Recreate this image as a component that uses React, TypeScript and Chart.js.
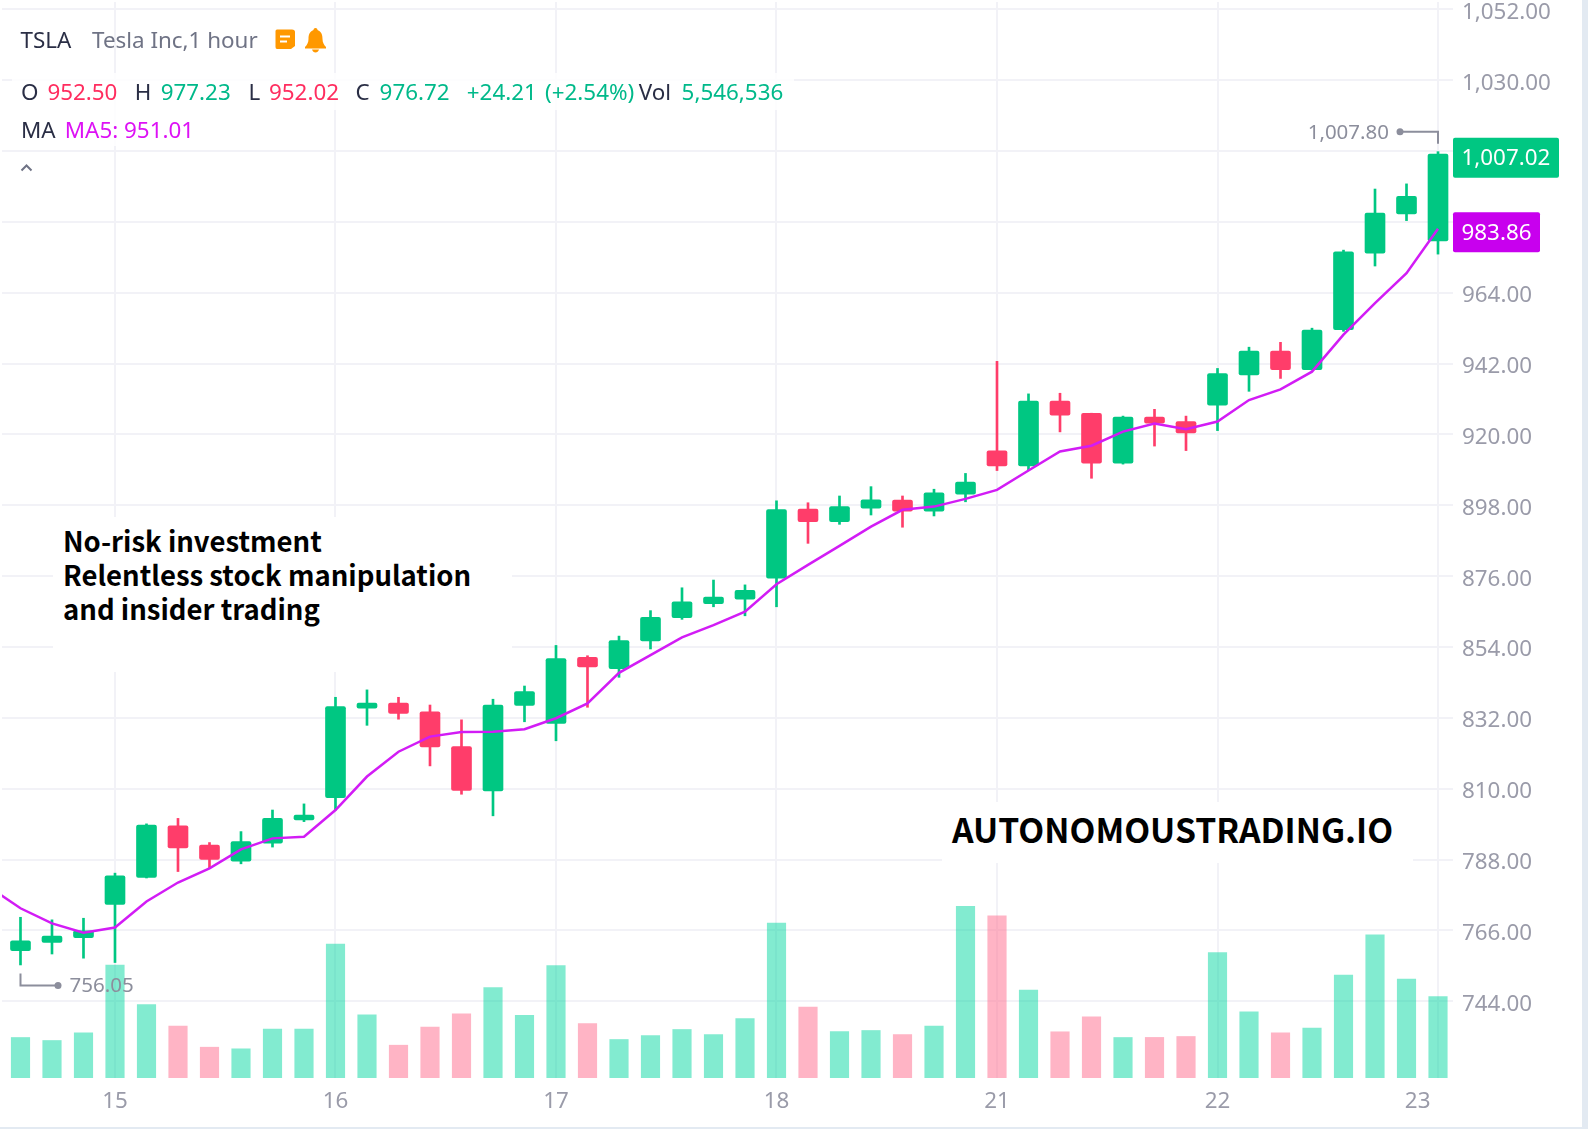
import React, { useEffect, useRef } from "react";
import { Chart, registerables } from "chart.js";

Chart.register(...registerables);

const opens = [759.7, 762.3, 763.8, 774.1, 782.5, 798.5, 792.5, 787.5, 793.1, 800.3, 807.2, 835.0, 836.6, 833.9, 823.1, 809.3, 835.9, 830.3, 850.8, 847.3, 855.9, 863.1, 867.5, 868.9, 875.4, 896.8, 892.9, 897.1, 899.6, 896.2, 901.5, 914.9, 910.2, 930.4, 926.6, 911.1, 925.4, 924.0, 929.1, 938.5, 945.9, 940.1, 952.5, 976.3, 988.5, 980.1];
const highs = [770.1, 769.3, 769.8, 783.8, 799.1, 800.8, 793.3, 796.7, 803.4, 805.3, 838.4, 840.7, 838.4, 836.0, 831.4, 837.8, 841.9, 854.5, 851.3, 857.4, 865.3, 872.4, 874.8, 873.3, 899.4, 898.8, 900.9, 903.8, 900.9, 903.0, 907.9, 942.7, 932.6, 932.8, 926.6, 925.7, 927.8, 925.7, 940.5, 947.1, 948.6, 953.0, 977.23, 996.2, 997.8, 1007.8];
const lows = [755.3, 758.7, 757.4, 756.05, 782.3, 784.3, 785.3, 786.7, 791.9, 799.8, 803.4, 829.7, 831.6, 817.1, 808.3, 801.6, 830.8, 824.9, 835.3, 844.6, 853.4, 862.6, 866.5, 863.7, 866.5, 886.2, 892.1, 895.0, 891.2, 894.7, 899.1, 908.8, 909.0, 920.8, 906.4, 910.8, 916.4, 915.0, 921.2, 933.4, 937.4, 940.0, 952.02, 972.3, 986.4, 976.0];
const closes = [762.8, 764.3, 765.9, 783.0, 798.7, 791.6, 788.1, 793.6, 800.8, 801.8, 835.5, 836.6, 833.4, 823.0, 809.5, 836.0, 840.2, 850.4, 847.8, 856.0, 863.2, 868.0, 869.5, 871.6, 896.7, 892.9, 897.6, 899.7, 896.2, 901.9, 905.2, 910.2, 930.4, 926.0, 911.1, 925.4, 923.5, 920.5, 938.9, 945.9, 940.1, 952.4, 976.72, 988.7, 993.9, 1007.02];
const volumes = [2185000, 2023000, 2439000, 6086000, 3966000, 2795000, 1662000, 1575000, 2633000, 2640000, 7219000, 3410000, 1770000, 2741000, 3464000, 4883000, 3383000, 6070000, 2941000, 2077000, 2293000, 2617000, 2347000, 3210000, 8358000, 3820000, 2509000, 2563000, 2347000, 2795000, 9269000, 8751000, 4737000, 2493000, 3302000, 2185000, 2190000, 2239000, 6771000, 3572000, 2439000, 2687000, 5546536, 7726000, 5331000, 4397000];
const ma5Start = -1;
const ma5 = [779.5, 772.9, 768.2, 765.3, 766.9, 775.0, 780.9, 785.3, 791.2, 794.6, 795.1, 803.4, 813.8, 821.5, 826.2, 827.6, 827.7, 828.5, 831.9, 836.5, 846.0, 851.5, 857.0, 860.8, 865.0, 873.5, 879.5, 885.4, 891.4, 896.6, 897.6, 900.0, 902.8, 908.8, 914.7, 916.5, 920.9, 923.4, 921.6, 924.0, 930.7, 934.0, 939.5, 951.01, 960.8, 970.1, 983.86];
const priceTicks = [744, 766, 788, 810, 832, 854, 876, 898, 920, 942, 964, 986, 1008, 1030, 1052];
const dayTickIndex = [3, 10, 17, 24, 31, 38, 45];
const dayTickLabels = ["15", "16", "17", "18", "21", "22", "23"];
const lastPrice = 1007.02;
const lastMa = 983.86;
const highIndex = 45;
const highValue = 1007.8;
const lowIndex = 3;
const lowValue = 756.05;

const FONT = '"Noto Sans", sans-serif';
const GREEN = "#00c782";
const RED = "#ff3d6a";
const VOL_GREEN = "rgba(0,214,160,0.49)";
const VOL_RED = "rgba(255,106,140,0.5)";
const MAGENTA = "#d21cf5";
const GRID = "#f2f2f7";
const TICK = "#9a9ba9";
const MARK = "#8c8e9c";

const fmt = (v: number) =>
  v.toLocaleString("en-US", { minimumFractionDigits: 2, maximumFractionDigits: 2 });

const up = closes.map((c, i) => c >= opens[i]);

const markers = {
  id: "markers",
  afterDatasetsDraw(chart: any) {
    const { ctx, scales } = chart;
    const x = scales.x;
    const y = scales.y;
    ctx.save();
    ctx.textBaseline = "middle";
    ctx.font = `20.5px ${FONT}`;

    // highest price marker
    const hx = x.getPixelForValue(highIndex);
    const hy = y.getPixelForValue(highValue) - 20;
    ctx.strokeStyle = MARK;
    ctx.lineWidth = 2;
    ctx.beginPath();
    ctx.moveTo(1400, hy);
    ctx.lineTo(hx, hy);
    ctx.lineTo(hx, hy + 12);
    ctx.stroke();
    ctx.fillStyle = MARK;
    ctx.beginPath();
    ctx.arc(1400, hy, 3.5, 0, Math.PI * 2);
    ctx.fill();
    ctx.textAlign = "right";
    ctx.fillText(fmt(highValue), 1389, hy + 1);

    // lowest price marker
    const lx = x.getPixelForValue(lowIndex) - 94.5;
    const ly = y.getPixelForValue(lowValue) + 23;
    ctx.beginPath();
    ctx.moveTo(lx, ly - 12);
    ctx.lineTo(lx, ly);
    ctx.lineTo(58, ly);
    ctx.stroke();
    ctx.beginPath();
    ctx.arc(58, ly, 3.5, 0, Math.PI * 2);
    ctx.fill();
    ctx.textAlign = "left";
    ctx.fillText(fmt(lowValue), 69.5, ly + 1);

    // current value tags on the price axis
    const tag = (value: number, w: number, color: string) => {
      const cy = y.getPixelForValue(value) + 3.5;
      ctx.fillStyle = color;
      ctx.beginPath();
      ctx.roundRect(1453, cy - 20, w, 40, 2);
      ctx.fill();
      ctx.fillStyle = "#ffffff";
      ctx.font = `22.4px ${FONT}`;
      ctx.textAlign = "left";
      ctx.fillText(fmt(value), 1461.5, cy + 1);
    };
    tag(lastPrice, 106, GREEN);
    tag(lastMa, 87, "#c800ee");
    ctx.restore();
  },
};

const Row = ({ x, y, color, children, size = 22.4 }: any) => (
  <span
    style={{
      position: "absolute",
      left: x,
      top: y - 16,
      lineHeight: "32px",
      fontSize: size,
      fontFamily: FONT,
      color,
      whiteSpace: "pre",
    }}
  >
    {children}
  </span>
);

const DARK = "#2a2e45";
const SUB = "#6f7385";
const HRED = "#ff2d5f";
const HGREEN = "#00b98a";
const HMAG = "#dd12f5";

export default function App() {
  const ref = useRef<HTMLCanvasElement | null>(null);

  useEffect(() => {
    const idx = closes.map((_, i) => i);
    const chart = new Chart(ref.current as HTMLCanvasElement, {
      type: "bar",
      data: {
        datasets: [
          {
            type: "line",
            data: ma5.map((v, i) => ({ x: ma5Start + i, y: v })),
            borderColor: MAGENTA,
            borderWidth: 2.5,
            pointRadius: 0,
            tension: 0,
            order: 1,
            yAxisID: "y",
          },
          {
            data: idx.map((i) => ({ x: i, y: [opens[i], closes[i]] })),
            backgroundColor: up.map((u) => (u ? GREEN : RED)),
            barThickness: 20,
            borderRadius: 2,
            borderSkipped: false,
            grouped: false,
            order: 2,
            yAxisID: "y",
          },
          {
            data: idx.map((i) => ({ x: i, y: [lows[i], highs[i]] })),
            backgroundColor: up.map((u) => (u ? GREEN : RED)),
            barThickness: 2,
            grouped: false,
            order: 3,
            yAxisID: "y",
          },
          {
            data: idx.map((i) => ({ x: i, y: volumes[i] })),
            backgroundColor: up.map((u) => (u ? VOL_GREEN : VOL_RED)),
            barThickness: 18.5,
            grouped: false,
            order: 4,
            yAxisID: "vol",
          },
        ],
      } as any,
      options: {
        animation: false,
        responsive: false,
        events: [],
        layout: { padding: { left: 2, top: 2, right: 0, bottom: 0 } },
        plugins: { legend: { display: false }, tooltip: { enabled: false } },
        scales: {
          x: {
            type: "linear",
            offset: false,
            min: -0.587,
            max: 45.476,
            grid: { color: GRID, lineWidth: 2, drawTicks: false, offset: false },
            border: { display: false },
            afterBuildTicks: (s: any) => {
              s.ticks = dayTickIndex.map((v) => ({ value: v }));
            },
            afterFit: (s: any) => {
              s.height = 51;
              s.paddingLeft = 0;
              s.paddingRight = 0;
            },
            ticks: {
              autoSkip: false,
              maxRotation: 0,
              padding: 10,
              color: TICK,
              font: { family: "Noto Sans", size: 22.4 },
              callback: (v: any) => {
                const k = dayTickIndex.indexOf(Number(v));
                const label = k < 0 ? "" : dayTickLabels[k];
                return k === dayTickLabels.length - 1 ? label + "       " : label;
              },
            },
          },
          y: {
            type: "linear",
            position: "right",
            min: 720.2,
            max: 1054.27,
            grid: { color: GRID, lineWidth: 2, drawTicks: false },
            border: { display: false },
            afterBuildTicks: (s: any) => {
              s.ticks = priceTicks.map((v) => ({ value: v }));
            },
            afterFit: (s: any) => {
              s.width = 135;
              s.paddingTop = 0;
              s.paddingBottom = 0;
            },
            ticks: {
              padding: 9,
              labelOffset: 3,
              color: TICK,
              font: { family: "Noto Sans", size: 22.4 },
              callback: (v: any) => fmt(Number(v)),
            },
          },
          vol: {
            type: "linear",
            display: false,
            min: 0,
            max: 58055580,
          },
        },
      } as any,
      plugins: [markers],
    });
    return () => chart.destroy();
  }, []);

  return (
    <div style={{ position: "absolute", left: 0, top: 0, width: 1588, height: 1129, overflow: "hidden", background: "#e3eaf2" }}>
      <div style={{ position: "absolute", left: 0, top: 0, width: 1582, height: 1127, background: "#ffffff" }} />
      <canvas ref={ref} width={1588} height={1129} style={{ position: "absolute", left: 0, top: 0, width: 1588, height: 1129 }} />

      <div style={{ position: "absolute", left: 12, top: 73, width: 782, height: 37, background: "rgba(255,255,255,0.85)" }} />
      <div style={{ position: "absolute", left: 12, top: 110, width: 188, height: 36, background: "rgba(255,255,255,0.85)" }} />

      <Row x={20.5} y={39.5} color={DARK}>TSLA</Row>
      <Row x={92} y={39.5} color={SUB}>Tesla Inc,1 hour</Row>
      <svg style={{ position: "absolute", left: 275, top: 28 }} width={52} height={25} viewBox="0 0 52 25">
        <path d="M2 1.5 H17 Q20 1.5 20 4 V18 L16 21 H2 Q0.5 21 0.5 19 V3 Q0.5 1.5 2 1.5 Z" fill="#ff9800" />
        <rect x={5} y={7.5} width={10} height={2} fill="#ffffff" />
        <rect x={5} y={12.5} width={7} height={2} fill="#ffffff" />
        <path d="M40.5 0 C42 0 42.5 1 42.5 2 C46.5 3.5 47.5 7 47.5 11 C47.5 14.5 49 17 51 19 V20.5 H30 V19 C32 17 33.5 14.5 33.5 11 C33.5 7 34.5 3.5 38.5 2 C38.5 1 39 0 40.5 0 Z" fill="#ff9800" />
        <path d="M37 21.5 H44 C43.5 23.5 42 24.5 40.5 24.5 C39 24.5 37.5 23.5 37 21.5 Z" fill="#ff9800" />
      </svg>

      <Row x={21} y={92} color={DARK}>O</Row>
      <Row x={47.4} y={92} color={HRED}>952.50</Row>
      <Row x={134.7} y={92} color={DARK}>H</Row>
      <Row x={160.7} y={92} color={HGREEN}>977.23</Row>
      <Row x={248.5} y={92} color={DARK}>L</Row>
      <Row x={269} y={92} color={HRED}>952.02</Row>
      <Row x={355.6} y={92} color={DARK}>C</Row>
      <Row x={379.6} y={92} color={HGREEN}>976.72</Row>
      <Row x={466.8} y={92} color={HGREEN}>+24.21</Row>
      <Row x={545} y={92} color={HGREEN}>(+2.54%)</Row>
      <Row x={638.8} y={92} color={DARK}>Vol</Row>
      <Row x={681.6} y={92} color={HGREEN}>5,546,536</Row>

      <Row x={21} y={130} color={DARK}>MA</Row>
      <Row x={64.8} y={130} color={HMAG}>MA5: 951.01</Row>

      <svg style={{ position: "absolute", left: 20, top: 163 }} width={13} height={9} viewBox="0 0 13 9">
        <path d="M1.5 7.5 L6.5 2.5 L11.5 7.5" fill="none" stroke={SUB} strokeWidth={2} />
      </svg>

      <div
        style={{
          position: "absolute",
          left: 53,
          top: 517,
          width: 459,
          height: 155,
          background: "#ffffff",
        }}
      >
        <div
          style={{
            position: "absolute",
            left: 10,
            top: 6,
            fontFamily: '"Noto Sans CJK JP", sans-serif',
            fontWeight: 700,
            fontSize: 27.5,
            lineHeight: "34px",
            color: "#000000",
            whiteSpace: "pre",
          }}
        >
          {"No-risk investment\nRelentless stock manipulation\nand insider trading"}
        </div>
      </div>

      <div style={{ position: "absolute", left: 942, top: 802, width: 471, height: 61, background: "#ffffff" }}>
        <div
          style={{
            position: "absolute",
            left: 10,
            top: 0,
            fontFamily: '"Noto Sans CJK JP", sans-serif',
            fontWeight: 700,
            fontSize: 33.7,
            lineHeight: "54px",
            color: "#000000",
            whiteSpace: "pre",
          }}
        >
          AUTONOMOUSTRADING.IO
        </div>
      </div>
    </div>
  );
}
